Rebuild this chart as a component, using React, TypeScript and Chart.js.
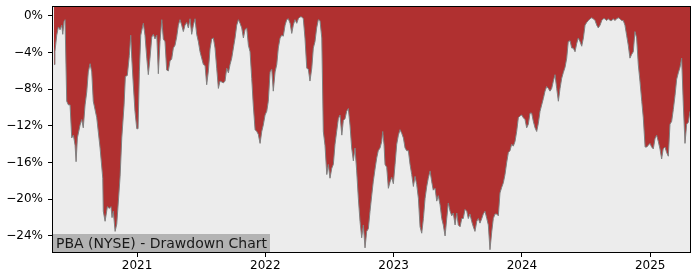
import React, { useEffect, useRef } from "react";
import { Chart, registerables } from "chart.js";

Chart.register(...registerables);

const years: number[] = [
  2020.353, 2020.360, 2020.374, 2020.387, 2020.400, 2020.413, 2020.421, 2020.431, 2020.439, 2020.452,
  2020.465, 2020.478, 2020.491, 2020.504, 2020.517, 2020.525, 2020.535, 2020.556, 2020.569, 2020.581,
  2020.595, 2020.608, 2020.620, 2020.634, 2020.647, 2020.659, 2020.686, 2020.712, 2020.733, 2020.737,
  2020.751, 2020.769, 2020.784, 2020.797, 2020.805, 2020.815, 2020.829, 2020.842, 2020.854, 2020.868,
  2020.881, 2020.899, 2020.909, 2020.924, 2020.940, 2020.951, 2020.959, 2020.971, 2020.984, 2020.998,
  2021.008, 2021.018, 2021.029, 2021.049, 2021.062, 2021.076, 2021.088, 2021.101, 2021.115, 2021.127,
  2021.140, 2021.154, 2021.166, 2021.179, 2021.193, 2021.205, 2021.218, 2021.231, 2021.244, 2021.257,
  2021.270, 2021.283, 2021.296, 2021.309, 2021.322, 2021.335, 2021.348, 2021.361, 2021.374, 2021.387,
  2021.400, 2021.413, 2021.426, 2021.439, 2021.452, 2021.465, 2021.478, 2021.491, 2021.504, 2021.517,
  2021.530, 2021.543, 2021.556, 2021.569, 2021.582, 2021.595, 2021.608, 2021.621, 2021.634, 2021.647,
  2021.673, 2021.686, 2021.699, 2021.712, 2021.725, 2021.738, 2021.751, 2021.764, 2021.777, 2021.790,
  2021.803, 2021.816, 2021.829, 2021.842, 2021.855, 2021.868, 2021.881, 2021.894, 2021.906, 2021.920,
  2021.933, 2021.945, 2021.959, 2021.972, 2021.984, 2021.998, 2022.011, 2022.023, 2022.037, 2022.050,
  2022.062, 2022.076, 2022.089, 2022.101, 2022.115, 2022.128, 2022.140, 2022.154, 2022.167, 2022.179,
  2022.193, 2022.206, 2022.218, 2022.231, 2022.245, 2022.257, 2022.270, 2022.284, 2022.296, 2022.309,
  2022.323, 2022.335, 2022.348, 2022.362, 2022.374, 2022.387, 2022.400, 2022.413, 2022.426, 2022.440,
  2022.452, 2022.465, 2022.479, 2022.491, 2022.504, 2022.518, 2022.530, 2022.543, 2022.556, 2022.569,
  2022.582, 2022.596, 2022.608, 2022.621, 2022.634, 2022.647, 2022.660, 2022.673, 2022.686, 2022.699,
  2022.712, 2022.725, 2022.738, 2022.751, 2022.764, 2022.777, 2022.790, 2022.803, 2022.816, 2022.829,
  2022.841, 2022.855, 2022.868, 2022.880, 2022.894, 2022.907, 2022.915, 2022.925, 2022.933, 2022.946,
  2022.959, 2022.972, 2022.985, 2022.998, 2023.011, 2023.024, 2023.037, 2023.050, 2023.063, 2023.076,
  2023.089, 2023.102, 2023.115, 2023.128, 2023.141, 2023.154, 2023.167, 2023.180, 2023.193, 2023.206,
  2023.219, 2023.232, 2023.245, 2023.258, 2023.270, 2023.284, 2023.297, 2023.309, 2023.323, 2023.336,
  2023.348, 2023.362, 2023.375, 2023.387, 2023.401, 2023.414, 2023.426, 2023.440, 2023.453, 2023.465,
  2023.479, 2023.492, 2023.504, 2023.518, 2023.531, 2023.543, 2023.556, 2023.570, 2023.582, 2023.595,
  2023.608, 2023.621, 2023.634, 2023.648, 2023.660, 2023.673, 2023.687, 2023.699, 2023.712, 2023.726,
  2023.738, 2023.751, 2023.765, 2023.777, 2023.790, 2023.803, 2023.816, 2023.829, 2023.842, 2023.855,
  2023.868, 2023.881, 2023.894, 2023.907, 2023.920, 2023.933, 2023.946, 2023.959, 2023.972, 2023.985,
  2023.998, 2024.011, 2024.024, 2024.037, 2024.050, 2024.063, 2024.076, 2024.089, 2024.102, 2024.115,
  2024.128, 2024.141, 2024.154, 2024.167, 2024.180, 2024.193, 2024.206, 2024.219, 2024.232, 2024.245,
  2024.258, 2024.271, 2024.284, 2024.297, 2024.310, 2024.322, 2024.336, 2024.349, 2024.361, 2024.375,
  2024.388, 2024.400, 2024.414, 2024.427, 2024.439, 2024.453, 2024.466, 2024.479, 2024.492, 2024.505,
  2024.518, 2024.531, 2024.544, 2024.556, 2024.570, 2024.583, 2024.595, 2024.609, 2024.622, 2024.634,
  2024.647, 2024.660, 2024.673, 2024.687, 2024.700, 2024.712, 2024.725, 2024.738, 2024.751, 2024.764,
  2024.777, 2024.790, 2024.803, 2024.816, 2024.829, 2024.842, 2024.855, 2024.868, 2024.881, 2024.894,
  2024.907, 2024.920, 2024.934, 2024.946, 2024.960, 2024.973, 2024.985, 2024.998, 2025.011, 2025.024,
  2025.037, 2025.050, 2025.063, 2025.076, 2025.089, 2025.101, 2025.115, 2025.128, 2025.141, 2025.154,
  2025.167, 2025.180, 2025.193, 2025.206, 2025.219, 2025.232, 2025.245, 2025.258, 2025.271, 2025.284,
  2025.297, 2025.310,
];

const drawdown: number[] = [
  -5.3, -3.9, -2.1, -1.2, -1.5, -1.0, -2.0, -0.6, -0.4, -9.3,
  -9.7, -9.7, -13.3, -13.0, -14.1, -15.9, -13.3, -11.9, -11.3, -12.2,
  -9.7, -8.3, -6.1, -5.2, -6.1, -9.3, -11.1, -14.4, -17.7, -21.3,
  -22.4, -20.8, -21.0, -20.8, -22.0, -21.3, -23.5, -22.7, -20.3, -17.5,
  -13.3, -9.7, -6.6, -6.5, -4.3, -2.1, -4.6, -7.5, -10.4, -12.3,
  -12.3, -6.1, -2.1, -0.8, -2.1, -4.6, -6.4, -4.6, -2.3, -2.0,
  -2.5, -2.1, -6.3, -2.8, -0.4, -2.5, -2.8, -5.9, -6.0, -4.9,
  -4.7, -3.5, -3.2, -2.3, -1.0, -0.4, -1.0, -1.7, -1.0, -0.7,
  -1.3, -0.3, -2.0, -1.0, -0.3, -2.0, -2.8, -3.9, -4.6, -5.3,
  -5.4, -7.5, -6.0, -3.6, -2.5, -2.4, -3.5, -5.7, -7.9, -7.1,
  -7.3, -7.1, -5.7, -6.2, -5.3, -4.6, -3.5, -2.4, -1.0, -0.4,
  -0.8, -1.3, -2.4, -1.5, -1.3, -3.2, -3.9, -6.8, -9.7, -12.4,
  -12.6, -12.9, -13.9, -12.6, -11.9, -10.8, -10.4, -9.3, -6.1, -5.8,
  -8.2, -6.1, -5.3, -3.5, -2.4, -2.1, -2.2, -1.0, -0.4, -0.3,
  -0.8, -1.9, -1.0, -0.4, -0.8, -0.3, -0.1, -0.1, -0.3, -2.4,
  -5.7, -5.8, -7.1, -5.7, -3.5, -2.8, -1.3, -0.4, -0.5, -2.4,
  -12.6, -14.1, -17.3, -16.2, -17.7, -16.6, -16.2, -14.0, -12.6, -11.2,
  -10.8, -13.0, -11.4, -11.2, -10.4, -10.1, -11.9, -14.4, -15.8, -14.4,
  -16.9, -19.9, -22.4, -24.2, -22.8, -25.3, -23.5, -23.2, -21.3, -19.6,
  -18.1, -16.7, -15.5, -14.7, -14.4, -13.7, -12.6, -14.0, -16.2, -16.5,
  -18.8, -18.1, -17.6, -18.3, -16.2, -14.0, -13.0, -12.4, -12.8, -13.3,
  -14.4, -14.7, -14.7, -16.2, -17.3, -18.6, -17.5, -18.4, -19.9, -23.0,
  -23.7, -22.1, -19.9, -18.6, -17.7, -16.9, -18.1, -19.0, -18.8, -20.2,
  -19.6, -20.6, -22.1, -22.8, -24.0, -22.1, -20.4, -21.3, -21.8, -21.5,
  -22.8, -21.5, -22.8, -23.0, -22.1, -22.1, -21.1, -21.3, -22.1, -21.6,
  -22.4, -23.0, -23.5, -22.4, -22.1, -22.6, -22.1, -21.6, -21.3, -22.1,
  -22.8, -25.5, -23.5, -22.1, -21.6, -21.6, -21.8, -19.3, -18.7, -18.2,
  -17.3, -16.0, -14.9, -14.7, -14.0, -14.2, -13.7, -12.6, -11.1, -10.9,
  -10.8, -11.1, -11.3, -12.2, -11.8, -10.6, -10.6, -11.5, -12.2, -12.6,
  -11.7, -10.4, -9.7, -9.0, -8.2, -7.7, -7.9, -8.2, -7.9, -7.1,
  -6.4, -7.9, -9.3, -7.9, -6.8, -6.2, -5.6, -4.6, -2.8, -2.7,
  -3.5, -3.5, -3.9, -3.0, -2.4, -2.8, -3.3, -2.4, -1.0, -0.7,
  -0.5, -0.3, -0.2, -0.3, -0.5, -1.0, -1.3, -1.0, -0.5, -0.3,
  -0.3, -0.5, -0.3, -0.5, -0.5, -0.3, -0.5, -0.3, -0.2, -0.3,
  -0.5, -0.5, -1.0, -2.1, -3.2, -4.6, -4.2, -3.9, -1.7, -2.4,
  -5.3, -7.1, -9.3, -11.1, -14.3, -14.3, -14.1, -13.9, -14.3, -14.5,
  -13.4, -13.0, -13.7, -14.5, -15.6, -14.5, -14.3, -14.9, -15.3, -11.8,
  -11.5, -10.2, -8.7, -6.9, -6.2, -5.6, -4.6, -9.7, -13.9, -11.8,
  -11.6, -10.4,
];

const xTickYears: number[] = [2021, 2022, 2023, 2024, 2025];
const yTickValues: number[] = [0, -4, -8, -12, -16, -20, -24];
const xMin = 2020.345;
const xMax = 2025.31;
const yMin = -25.75;
const yMax = 0.98;
const chartLabel = "PBA (NYSE) - Drawdown Chart";

const FONT = "'DejaVu Sans', sans-serif";

const framePlugin = {
  id: "frameAndLabel",
  beforeDatasetsDraw(chart: any) {
    const { ctx, chartArea: a } = chart;
    ctx.save();
    ctx.fillStyle = "#ececec";
    ctx.fillRect(a.left, a.top, a.right - a.left, a.bottom - a.top);
    ctx.restore();
  },
  afterDatasetsDraw(chart: any) {
    const { ctx, chartArea: a } = chart;
    ctx.save();
    ctx.font = `14px ${FONT}`;
    const w = ctx.measureText(chartLabel).width;
    ctx.fillStyle = "#b3b3b3";
    ctx.fillRect(a.left, a.bottom - 18, w + 6, 18);
    ctx.fillStyle = "#1a1a1a";
    ctx.textBaseline = "alphabetic";
    ctx.fillText(chartLabel, a.left + 3, a.bottom - 4);
    ctx.strokeStyle = "#000";
    ctx.lineWidth = 1;
    ctx.strokeRect(a.left - 0.5, a.top - 0.5, a.right - a.left + 1, a.bottom - a.top + 1);
    ctx.restore();
  },
};

export default function App() {
  const ref = useRef<HTMLCanvasElement | null>(null);
  useEffect(() => {
    document.body.style.margin = "0";
    const canvas = ref.current;
    if (!canvas) return;
    const chart = new Chart(canvas, {
      type: "line",
      data: {
        datasets: [
          {
            data: years.map((x, i) => ({ x, y: drawdown[i] })),
            borderColor: "#808080",
            borderWidth: 1,
            backgroundColor: "#b03030",
            fill: "end",
            pointRadius: 0,
            tension: 0,
          },
        ],
      },
      options: {
        animation: false,
        responsive: false,
        maintainAspectRatio: false,
        layout: { padding: { top: 7, right: 10, left: 0, bottom: 0 } },
        plugins: { legend: { display: false }, tooltip: { enabled: false } },
        scales: {
          x: {
            type: "linear",
            min: xMin,
            max: xMax,
            afterBuildTicks: (scale: any) => {
              scale.ticks = xTickYears.map((v) => ({ value: v }));
            },
            afterFit: (scale: any) => {
              scale.height = 28;
              scale.paddingLeft = 0;
              scale.paddingRight = 0;
            },
            grid: {
              display: true,
              drawOnChartArea: false,
              drawTicks: true,
              tickLength: 5,
              tickColor: "#000",
              color: "#000",
            },
            border: { display: false },
            ticks: {
              autoSkip: false,
              maxRotation: 0,
              padding: 2,
              color: "#000",
              font: { family: FONT, size: 12 },
              callback: (v: any) => String(Math.round(Number(v))),
            },
          },
          y: {
            type: "linear",
            min: yMin,
            max: yMax,
            afterBuildTicks: (scale: any) => {
              scale.ticks = yTickValues.map((v) => ({ value: v }));
            },
            afterFit: (scale: any) => {
              scale.width = 53;
              scale.paddingTop = 0;
              scale.paddingBottom = 0;
            },
            grid: {
              display: true,
              drawOnChartArea: false,
              drawTicks: true,
              tickLength: 5,
              tickColor: "#000",
              color: "#000",
            },
            border: { display: false },
            ticks: {
              autoSkip: false,
              padding: 5,
              color: "#000",
              font: { family: FONT, size: 12 },
              callback: (v: any) => {
                const n = Number(v);
                return (n < 0 ? "\u2212" + Math.abs(n) : String(n)) + "%";
              },
            },
          },
        },
      },
      plugins: [framePlugin],
    });
    return () => chart.destroy();
  }, []);
  return <canvas ref={ref} width={700} height={280} style={{ display: "block" }} />;
}
